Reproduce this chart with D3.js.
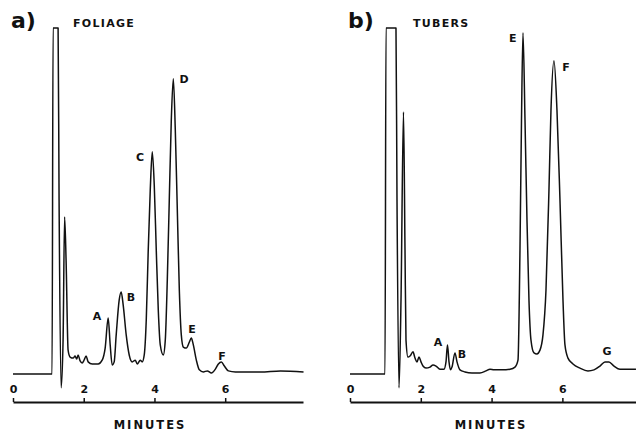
<!DOCTYPE html>
<html><head><meta charset="utf-8">
<script src="https://cdn.jsdelivr.net/npm/d3@7"></script>
<style>
html,body{margin:0;padding:0;background:#fff;}
svg{display:block;}
text{font-family:"DejaVu Sans",sans-serif;font-weight:bold;fill:#111;}
</style></head>
<body>
<svg id="c" width="636" height="431"></svg>
<script>
// ---- data (time in minutes, detector response in % of solvent-peak top) ----
const foliageTime = [0,1.105,1.133,1.275,1.303,1.36,1.416,1.459,1.501,1.558,1.615,1.70,1.756,1.80,1.841,1.898,1.955,2.01,2.068,2.125,2.24,2.408,2.521,2.606,2.691,2.748,2.805,2.861,2.918,3.003,3.059,3.116,3.201,3.286,3.371,3.456,3.513,3.598,3.654,3.711,3.768,3.824,3.881,3.938,3.994,4.051,4.108,4.164,4.249,4.306,4.363,4.419,4.476,4.533,4.589,4.646,4.703,4.759,4.816,4.901,4.986,5.042,5.099,5.184,5.269,5.382,5.495,5.609,5.722,5.807,5.892,5.977,6.09,6.289,6.997,7.564,8.215];
const foliageResp = [0,0,100,100,50.3,-4.0,9.8,45.4,32.9,6.9,4.9,4.6,5.2,4.3,5.5,3.8,3.2,4.0,5.2,3.5,2.9,2.9,4.0,7.5,16.2,8.4,2.6,3.5,11.3,21.4,23.7,19.9,11.3,5.5,3.5,4.0,2.9,4.0,3.5,5.5,15.6,35.8,53.2,64.2,54.6,35.8,18.5,8.4,5.5,9.8,27.2,50.3,73.4,85.3,70.5,47.4,24.3,11.3,7.8,7.5,9.2,10.4,8.4,4.0,1.2,0.6,0.9,0.3,1.4,2.9,3.5,2.3,0.9,0.6,0.6,0.9,0.6];

const tuberTime = [0,0.989,1.017,1.299,1.328,1.384,1.441,1.511,1.554,1.582,1.638,1.695,1.78,1.836,1.893,1.949,2.006,2.062,2.147,2.26,2.345,2.43,2.542,2.655,2.712,2.754,2.797,2.839,2.881,2.966,3.023,3.107,3.249,3.446,3.672,3.842,3.955,4.068,4.294,4.52,4.661,4.746,4.802,4.845,4.887,4.944,5.0,5.056,5.113,5.198,5.282,5.367,5.452,5.537,5.621,5.678,5.763,5.847,5.932,6.017,6.073,6.158,6.299,6.497,6.723,6.893,7.062,7.203,7.316,7.458,7.627,8.079];
const tuberResp = [0,0,100,100,50.3,-4.0,21.4,75.7,35.8,9.8,4.9,5.2,6.4,4.6,3.5,4.9,3.5,2.3,1.7,2.0,2.6,2.3,1.4,1.4,3.5,8.4,3.5,1.2,2.0,6.1,3.5,1.2,0.6,0.3,0.3,0.9,1.4,1.2,1.2,1.4,2.0,4.0,35.8,73.4,98.6,73.4,44.5,21.4,9.8,6.1,5.8,6.9,11.3,24.3,53.2,76.3,90.5,76.3,50.3,21.4,8.4,4.6,2.9,1.7,0.9,1.2,2.3,3.5,3.5,2.3,1.4,1.4];

// peak-label anchor points (time, response)
const foliagePeakNames = ["A","B","C","D","E","F"];
const foliagePeakTime  = [2.375,3.336,3.59,4.835,5.06,5.91];
const foliagePeakResp  = [16.5,22.0,62.7,85.0,13.0,5.2];

const tuberPeakNames = ["A","B","E","F","G"];
const tuberPeakTime  = [2.486,3.164,4.60,6.10,7.26];
const tuberPeakResp  = [9.0,5.5,97.1,88.7,6.6];

const tickValues = [0,2,4,6];
const panelLetters = ["a)","b)"];
const panelTitles = ["FOLIAGE","TUBERS"];
const axisTitle = "MINUTES";

// ---- drawing ----
const svg = d3.select("#c");
const y = d3.scaleLinear().domain([0,100]).range([374,28]);

const panels = [
  {x: d3.scaleLinear().domain([0,8.2]).range([13,303]), t: foliageTime, r: foliageResp,
   names: foliagePeakNames, pt: foliagePeakTime, pr: foliagePeakResp,
   letter: panelLetters[0], title: panelTitles[0], lx: 11, tx: 73, mx: 150},
  {x: d3.scaleLinear().domain([0,8.08]).range([350,636]), t: tuberTime, r: tuberResp,
   names: tuberPeakNames, pt: tuberPeakTime, pr: tuberPeakResp,
   letter: panelLetters[1], title: panelTitles[1], lx: 348, tx: 413, mx: 491}
];

panels.forEach(p => {
  const g = svg.append("g");
  const pts = p.t.map((t,i) => [t, p.r[i]]);
  const line = d3.line().x(d => p.x(d[0])).y(d => y(d[1])).curve(d3.curveMonotoneX);
  g.append("path").datum(pts).attr("d", line)
    .attr("fill","none").attr("stroke","#111").attr("stroke-width",1.5)
    .attr("stroke-linejoin","round");

  // peak labels
  g.selectAll("text.pk").data(p.names).join("text").attr("class","pk")
    .attr("x",(d,i)=>p.x(p.pt[i])).attr("y",(d,i)=>y(p.pr[i]))
    .attr("text-anchor","middle").attr("dominant-baseline","central")
    .attr("font-size",11).text(d=>d);

  // axis (ticks pointing up, labels above the line)
  const ax = d3.axisTop(p.x).tickValues(tickValues).tickSize(4).tickSizeOuter(0).tickPadding(5);
  const ag = g.append("g").attr("transform","translate(0,402)").call(ax);
  ag.select(".domain").attr("stroke","#111").attr("stroke-width",2);
  ag.selectAll(".tick line").attr("stroke","#111").attr("stroke-width",1.5);
  ag.selectAll(".tick text").attr("font-size",11).attr("font-weight","bold")
    .attr("font-family","DejaVu Sans").attr("fill","#111");

  g.append("text").attr("x", p.mx).attr("y", 429)
    .attr("text-anchor","middle").attr("font-size",11.5).attr("letter-spacing",2)
    .text(axisTitle);

  g.append("text").attr("x", p.lx).attr("y", 28).attr("font-size",22)
    .attr("font-family","Liberation Sans, Arial").text(p.letter);
  g.append("text").attr("x", p.tx).attr("y", 27).attr("font-size",11)
    .attr("letter-spacing",1.3).text(p.title);
});
</script>
</body></html>
